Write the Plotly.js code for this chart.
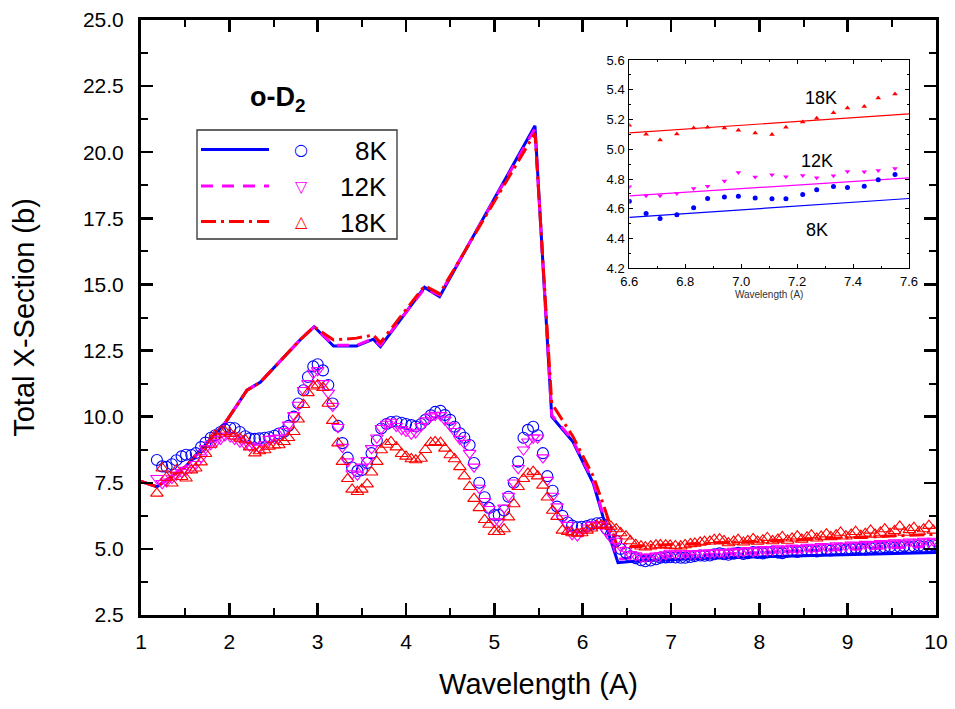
<!DOCTYPE html>
<html><head><meta charset="utf-8">
<script src="https://cdn.plot.ly/plotly-3.0.1.min.js"></script>
<style>html,body{margin:0;padding:0;background:#fff}</style>
</head><body><div id="plot" style="width:955px;height:709px"></div>
<script>
// measured wavelengths (A)
const wl = [1.18,1.24,1.29,1.35,1.40,1.46,1.51,1.57,1.62,1.68,
1.73,1.79,1.84,1.90,1.95,2.01,2.06,2.12,2.18,2.23,
2.29,2.34,2.40,2.45,2.51,2.56,2.62,2.67,2.73,2.78,
2.84,2.89,2.95,3.00,3.06,3.12,3.17,3.23,3.28,3.34,
3.39,3.45,3.50,3.56,3.61,3.67,3.72,3.78,3.83,3.89,
3.95,4.00,4.06,4.11,4.17,4.22,4.28,4.33,4.39,4.44,
4.50,4.55,4.61,4.66,4.72,4.77,4.83,4.89,4.94,5.00,
5.05,5.11,5.16,5.22,5.27,5.33,5.38,5.44,5.49,5.55,
5.60,5.66,5.71,5.77,5.83,5.88,5.94,5.99,6.05,6.10,
6.16,6.21,6.27,6.32,6.38,6.43,6.49,6.54,6.60,6.66,
6.71,6.77,6.83,6.88,6.94,6.99,7.05,7.11,7.16,7.22,
7.27,7.33,7.38,7.44,7.49,7.55,7.60,7.65,7.71,7.76,
7.82,7.87,7.93,7.98,8.04,8.09,8.15,8.21,8.26,8.32,
8.37,8.43,8.48,8.54,8.59,8.65,8.70,8.76,8.81,8.87,
8.92,8.98,9.04,9.09,9.15,9.20,9.26,9.31,9.37,9.42,
9.48,9.53,9.59,9.64,9.70,9.75,9.81,9.86,9.92,9.97];

const meas8K = [8.36,8.12,8.10,8.20,8.35,8.50,8.56,8.55,8.62,8.85,
9.02,9.20,9.30,9.42,9.52,9.58,9.56,9.42,9.26,9.18,
9.16,9.18,9.20,9.22,9.28,9.36,9.43,9.65,10.0,10.5,
11.0,11.5,11.9,11.98,11.75,11.2,10.5,9.65,9.0,8.45,
8.08,7.95,7.98,8.25,8.62,9.1,9.55,9.72,9.80,9.82,
9.77,9.72,9.68,9.63,9.72,9.88,10.05,10.18,10.22,10.06,
9.88,9.62,9.37,9.2,8.93,8.25,7.5,6.95,6.55,6.28,
6.28,6.45,6.97,7.5,8.3,9.2,9.5,9.62,9.3,8.62,
7.75,7.2,6.6,6.25,6.0,5.88,5.82,5.84,5.86,5.92,
5.97,5.98,5.75,5.55,5.3,5.0,4.85,4.72,4.651,4.569,
4.535,4.56,4.607,4.669,4.68,4.685,4.672,4.667,4.667,4.696,
4.728,4.75,4.743,4.752,4.795,4.831,4.80,4.78,4.82,4.85,
4.81,4.84,4.88,4.85,4.83,4.87,4.90,4.86,4.84,4.89,
4.92,4.88,4.91,4.95,4.92,4.90,4.95,4.98,4.94,4.97,
5.00,4.96,4.99,5.03,5.00,4.98,5.03,5.06,5.02,5.05,
5.08,5.04,5.07,5.10,5.06,5.09,5.12,5.08,5.11,5.14];

const meas12K = [7.67,7.48,7.54,7.68,7.80,7.90,7.98,8.06,8.20,8.45,
8.80,8.95,9.02,9.15,9.28,9.25,9.15,9.05,8.95,8.90,
8.86,8.82,8.95,9.15,9.18,9.20,9.45,9.69,10.05,10.44,
11.0,11.26,11.65,11.75,11.26,10.9,10.4,9.6,8.85,8.3,
7.85,7.8,8.1,8.35,8.8,9.2,9.56,9.72,9.80,9.64,
9.52,9.45,9.35,9.40,9.64,9.85,10.0,10.06,10.05,9.88,
9.65,9.45,9.15,9.0,8.62,8.1,7.3,6.8,6.5,6.03,
6.03,6.55,7.0,7.5,8.05,8.75,9.05,9.2,9.2,8.45,
7.6,7.0,6.6,6.15,5.9,5.55,5.5,5.65,5.8,5.9,
5.92,5.9,5.65,5.42,5.3,5.1,4.95,4.8,4.748,4.687,
4.687,4.703,4.737,4.752,4.786,4.844,4.813,4.828,4.815,4.824,
4.808,4.822,4.851,4.849,4.858,4.871,4.85,4.88,4.92,4.87,
4.90,4.95,4.90,4.93,4.98,4.94,4.96,5.01,4.97,4.99,
5.04,5.00,5.02,5.07,5.03,5.05,5.10,5.06,5.08,5.13,
5.09,5.11,5.15,5.12,5.14,5.18,5.14,5.17,5.21,5.17,
5.20,5.24,5.20,5.23,5.27,5.23,5.26,5.30,5.26,5.30];

const meas18K = [7.10,8.05,7.70,7.48,7.98,7.73,7.67,7.98,8.05,8.28,
8.60,8.95,9.30,9.42,9.43,9.37,9.26,9.18,9.12,8.85,
8.62,8.70,8.74,8.87,8.92,8.93,9.05,9.20,9.43,9.90,
10.45,10.90,11.15,11.2,11.1,10.5,9.85,9.0,8.3,7.65,
7.25,7.16,7.25,7.45,7.9,8.3,8.74,8.95,9.05,8.85,
8.6,8.5,8.4,8.36,8.42,8.75,9.02,9.05,9.02,8.8,
8.55,8.4,8.1,7.75,7.35,6.9,6.55,6.1,5.92,5.65,
5.65,5.75,6.2,6.7,7.35,7.65,7.85,7.92,7.75,7.4,
6.95,6.45,6.22,5.7,5.65,5.6,5.58,5.6,5.7,5.78,
5.88,5.9,5.92,5.85,5.75,5.6,5.48,5.3,5.161,5.101,
5.063,5.103,5.143,5.148,5.143,5.128,5.11,5.099,5.148,5.184,
5.208,5.246,5.278,5.287,5.345,5.372,5.30,5.22,5.28,5.35,
5.25,5.30,5.38,5.28,5.33,5.42,5.30,5.36,5.45,5.32,
5.40,5.48,5.36,5.44,5.52,5.40,5.47,5.56,5.45,5.52,
5.62,5.48,5.55,5.65,5.50,5.58,5.70,5.55,5.62,5.75,
5.58,5.68,5.85,5.62,5.72,5.80,5.65,5.75,5.88,5.70];

// model curves
const modelX = [1.0,1.18,1.5,1.95,2.2,2.35,2.8,2.96,3.18,3.44,3.63,3.71,4.21,4.38,5.46,5.65,5.89,6.12,6.23,6.4,6.6,7.6,10.0];
const model8K = [7.55,7.35,8.1,9.75,11.0,11.3,12.9,13.4,12.67,12.67,12.93,12.65,14.89,14.54,21.0,10.0,9.05,7.48,6.22,4.48,4.54,4.67,4.86];
const model12K = [7.55,7.35,8.1,9.75,11.0,11.3,12.9,13.4,12.7,12.7,12.95,12.7,14.85,14.6,20.9,10.05,9.1,7.55,6.3,4.6,4.69,4.81,5.1];
const model18K = [7.55,7.35,8.1,9.75,11.0,11.3,12.9,13.4,12.9,12.97,13.09,12.8,14.95,14.65,20.72,10.5,9.25,7.75,6.72,5.0,5.11,5.238,5.55];

// inset: index range of the measured data and fitted lines
const insetStart = 98, insetEnd = 116;
const fitX = [6.6, 7.6];
const fit8K = [4.542, 4.669];
const fit12K = [4.687, 4.808];
const fit18K = [5.11, 5.238];

const labels = ['8K','12K','18K'];
const colors = ['#0000ff','#ff00ff','#ff0000'];

const FONT = 'Liberation Sans, Arial, sans-serif';
const traces = [];
const models = [model8K, model12K, model18K];
const dashes = ['solid','12px,9px','15px,5px,3px,5px'];
for (let i=0;i<3;i++){
  traces.push({x:modelX, y:models[i], mode:'lines', type:'scatter', showlegend:false,
    line:{color:colors[i], width:3, dash:dashes[i]}, hoverinfo:'skip'});
}
const meas = [meas8K, meas12K, meas18K];
const syms = ['circle-open','triangle-down-open','triangle-up-open'];
for (let i=0;i<3;i++){
  traces.push({x:wl, y:meas[i], mode:'markers', type:'scatter', showlegend:false,
    marker:{symbol:syms[i], size:11, color:colors[i], line:{width:1.1, color:colors[i]}}});
}
// inset
const fits = [fit8K, fit12K, fit18K];
for (let i=0;i<3;i++){
  traces.push({x:fitX, y:fits[i], xaxis:'x2', yaxis:'y2', mode:'lines', type:'scatter', showlegend:false,
    line:{color:colors[i], width:1.2}});
}
const fsyms = ['circle','triangle-down','triangle-up'];
for (let i=0;i<3;i++){
  traces.push({x:wl.slice(insetStart,insetEnd), y:meas[i].slice(insetStart,insetEnd), xaxis:'x2', yaxis:'y2',
    mode:'markers', type:'scatter', showlegend:false,
    marker:{symbol:fsyms[i], size:5, color:colors[i]}});
}

// paper coords helpers for main plot area (141..936, 20..615)
const L=141, R=936, T=20, B=615;
const px = v => (v-L)/(R-L);
const py = v => (B-v)/(B-T);

const shapes = [
  {type:'rect', xref:'paper', yref:'paper', x0:px(197), x1:px(397), y0:py(239), y1:py(130), line:{color:'#333', width:1.3}}
];
const legY = [149.5, 186, 221.5];
const annotations = [];
const legSyms = ['○','▽','△'];
for (let i=0;i<3;i++){
  shapes.push({type:'line', xref:'paper', yref:'paper', x0:px(201), x1:px(269), y0:py(legY[i]), y1:py(legY[i]),
    line:{color:colors[i], width:3, dash:dashes[i]}});
  annotations.push({xref:'paper', yref:'paper', x:px(301), y:py(legY[i]), text:legSyms[i], showarrow:false,
    xanchor:'center', yanchor:'middle', font:{family:'DejaVu Sans', size:16, color:colors[i]}});
  annotations.push({xref:'paper', yref:'paper', x:px(389), y:py(legY[i]+1), text:labels[i], showarrow:false,
    xanchor:'right', yanchor:'middle', font:{family:FONT, size:26, color:'#000'}});
}
annotations.push({xref:'paper', yref:'paper', x:px(248), y:py(99), text:'<b>o-D<sub>2</sub></b>', showarrow:false,
  xanchor:'left', yanchor:'middle', font:{family:FONT, size:27, color:'#000'}});
const inLab = [[7.27,4.46],[7.27,4.92],[7.285,5.345]];
for (let i=0;i<3;i++){
  annotations.push({xref:'x2', yref:'y2', x:inLab[i][0], y:inLab[i][1], text:labels[i], showarrow:false,
    xanchor:'center', yanchor:'middle', font:{family:FONT, size:18, color:'#000'}});
}

const layout = {
  width:955, height:709,
  margin:{l:141, r:19, t:20, b:94},
  paper_bgcolor:'#fff', plot_bgcolor:'rgba(0,0,0,0)',
  font:{family:FONT, color:'#000'},
  showlegend:false,
  xaxis:{range:[1,10], dtick:1, tick0:1, ticks:'inside', ticklen:12, tickwidth:2.5, tickcolor:'#000',
    showline:true, linewidth:3, linecolor:'#000', mirror:'allticks', showgrid:false, zeroline:false,
    tickfont:{size:21, family:FONT}, ticklabelstandoff:6,
    minor:{dtick:0.5, ticks:'inside', ticklen:7, tickwidth:2, tickcolor:'#000', showgrid:false},
    title:{text:'Wavelength (A)', font:{size:29, family:FONT}, standoff:22}},
  yaxis:{range:[2.5,25], dtick:2.5, tick0:2.5, tickformat:'.1f', ticks:'inside', ticklen:12, tickwidth:2.5, tickcolor:'#000',
    showline:true, linewidth:3, linecolor:'#000', mirror:'allticks', showgrid:false, zeroline:false,
    tickfont:{size:21, family:FONT}, ticklabelstandoff:10,
    minor:{dtick:1.25, ticks:'inside', ticklen:7, tickwidth:2, tickcolor:'#000', showgrid:false},
    title:{text:'Total X-Section (b)', font:{size:29, family:FONT}, standoff:40}},
  xaxis2:{domain:[px(629.3), px(909)], anchor:'y2', range:[6.6,7.6], dtick:0.2, tick0:6.6, tickformat:'.1f',
    ticks:'inside', ticklen:4, tickwidth:1, tickcolor:'#000', showline:true, linewidth:1, linecolor:'#000',
    mirror:'allticks', showgrid:false, zeroline:false, tickfont:{size:13, family:FONT}, ticklabelstandoff:1,
    minor:{dtick:0.1, ticks:'inside', ticklen:2, tickwidth:1, tickcolor:'#000'},
    title:{text:'Wavelength (A)', font:{size:10, family:FONT, color:'#333'}, standoff:3}},
  yaxis2:{domain:[py(268.3), py(60)], anchor:'x2', range:[4.2,5.6], dtick:0.2, tick0:4.2, tickformat:'.1f',
    ticks:'inside', ticklen:4, tickwidth:1, tickcolor:'#000', showline:true, linewidth:1, linecolor:'#000',
    mirror:'allticks', showgrid:false, zeroline:false, tickfont:{size:13, family:FONT}, ticklabelstandoff:1,
    minor:{dtick:0.1, ticks:'inside', ticklen:2, tickwidth:1, tickcolor:'#000'}},
  shapes:shapes,
  annotations:annotations
};
Plotly.newPlot('plot', traces, layout, {displayModeBar:false, staticPlot:true});
</script></body></html>
